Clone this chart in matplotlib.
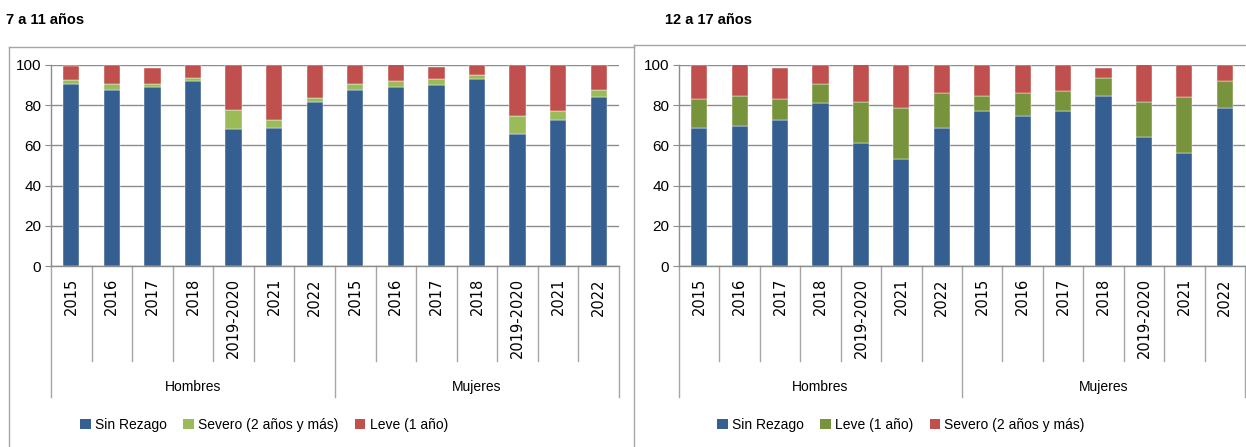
import matplotlib
matplotlib.use("Agg")
import matplotlib.pyplot as plt
from matplotlib import font_manager
from matplotlib.lines import Line2D
from matplotlib.patches import Patch

# --- data ---
years = ["2015", "2016", "2017", "2018", "2019-2020", "2021", "2022"]
groups = ["Hombres", "Mujeres"]

# 7 a 11 años (stack order: Sin Rezago, Severo, Leve)
sin_7_h = [90.5, 87.4, 88.9, 91.9, 68.0, 68.7, 81.4]
sin_7_m = [87.4, 88.9, 89.9, 92.9, 65.5, 72.5, 84.2]
sev_7_h = [2.2, 3.1, 1.6, 1.6, 9.8, 3.8, 2.3]
sev_7_m = [3.1, 3.1, 3.0, 2.1, 9.3, 4.6, 3.4]
lev_7_h = [7.0, 9.5, 8.2, 6.5, 22.2, 27.5, 16.3]
lev_7_m = [9.5, 8.5, 6.1, 5.0, 25.2, 22.9, 12.4]

# 12 a 17 años (stack order: Sin Rezago, Leve, Severo)
sin_12_h = [68.7, 69.5, 72.5, 80.9, 61.0, 53.1, 68.7]
sin_12_m = [76.9, 74.8, 76.9, 84.4, 64.0, 56.1, 78.4]
lev_12_h = [14.2, 14.9, 10.4, 9.6, 20.4, 25.3, 17.2]
lev_12_m = [7.5, 11.1, 10.0, 9.1, 17.4, 27.8, 13.6]
sev_12_h = [17.1, 16.1, 15.8, 9.5, 19.1, 21.6, 14.1]
sev_12_m = [15.6, 14.1, 13.1, 5.2, 19.1, 16.1, 8.0]

BLUE = "#365F91"
LGREEN = "#9BBB59"
DGREEN = "#77933C"
RED = "#C0504D"
GRID = "#8C8C8C"
BORDER = "#A6A6A6"

names = {f.name for f in font_manager.fontManager.ttflist}
narrow = "Liberation Sans Narrow" if "Liberation Sans Narrow" in names else "Liberation Sans"

W, H = 1246, 447
fig = plt.figure(figsize=(W / 100, H / 100), dpi=100)


def fx(px):
    return px / W


def fy(py):
    return 1 - py / H


def draw_panel(left, right, series, colors, labels, title, title_x, legend_x):
    ax = fig.add_axes([fx(left), fy(266), fx(right - left), (266 - 65) / H])
    n = len(years) * len(groups)
    x = list(range(n))
    bottom = [0.0] * n
    for vals, col in zip(series, colors):
        ax.bar(x, vals, width=0.4, bottom=bottom, color=col,
               edgecolor="white", linewidth=0.3, zorder=3)
        bottom = [b + v for b, v in zip(bottom, vals)]

    ax.set_xlim(-0.5, n - 0.5)
    ax.set_ylim(0, 100)
    ax.set_yticks(range(0, 101, 20))
    ax.set_yticklabels([str(v) for v in range(0, 101, 20)],
                       fontsize=11, family=narrow)
    ax.tick_params(axis="y", length=4, color=GRID, pad=3)
    ax.set_xticks([])
    ax.yaxis.grid(True, color=GRID, linewidth=1)
    ax.set_axisbelow(True)
    for s in ["top", "right"]:
        ax.spines[s].set_visible(False)
    for s in ["left", "bottom"]:
        ax.spines[s].set_color(GRID)
        ax.spines[s].set_linewidth(1)

    tr = ax.get_xaxis_transform()
    for k in range(n + 1):
        depth = 0.652 if k % len(years) == 0 else 0.473
        ax.plot([k - 0.5, k - 0.5], [0, -depth], transform=tr,
                color="#A6A6A6", lw=1, clip_on=False)
    labs = years * len(groups)
    for i, lab in enumerate(labs):
        ax.text(i, -0.06, lab, transform=tr, rotation=90, ha="center",
                va="top", fontsize=10.5, family="DejaVu Sans")
    for g, name in enumerate(groups):
        ax.text(g * len(years) + (len(years) - 1) / 2, -0.602, name,
                transform=tr, ha="center", va="center",
                fontsize=10, family=narrow)

    fig.text(fx(title_x), fy(20), title, fontsize=10.5, fontweight="bold",
             family=narrow, ha="left", va="center")

    handles = [Patch(facecolor=c, edgecolor="none") for c in colors]
    fig.legend(handles, labels, loc="center", ncol=3, frameon=False,
               bbox_to_anchor=(fx(legend_x), fy(425)),
               prop={"family": narrow, "size": 10},
               handlelength=0.75, handleheight=0.75, handletextpad=0.3,
               columnspacing=1.2)
    return ax


draw_panel(51, 619,
           [sin_7_h + sin_7_m, sev_7_h + sev_7_m, lev_7_h + lev_7_m],
           [BLUE, LGREEN, RED],
           ["Sin Rezago", "Severo (2 años y más)", "Leve (1 año)"],
           "7 a 11 años", 6, 264)

draw_panel(679, 1245,
           [sin_12_h + sin_12_m, lev_12_h + lev_12_m, sev_12_h + sev_12_m],
           [BLUE, DGREEN, RED],
           ["Sin Rezago", "Leve (1 año)", "Severo (2 años y más)"],
           "12 a 17 años", 665, 901)

# panel borders
for xs, ys in [([9, 9], [47, 460]), ([9, 634], [47, 47]),
               ([634, 634], [45, 460]), ([634, 1260], [45, 45])]:
    fig.add_artist(Line2D([fx(v) for v in xs], [fy(v) for v in ys],
                          color=BORDER, lw=1))

fig.savefig("out.png", dpi=100)
